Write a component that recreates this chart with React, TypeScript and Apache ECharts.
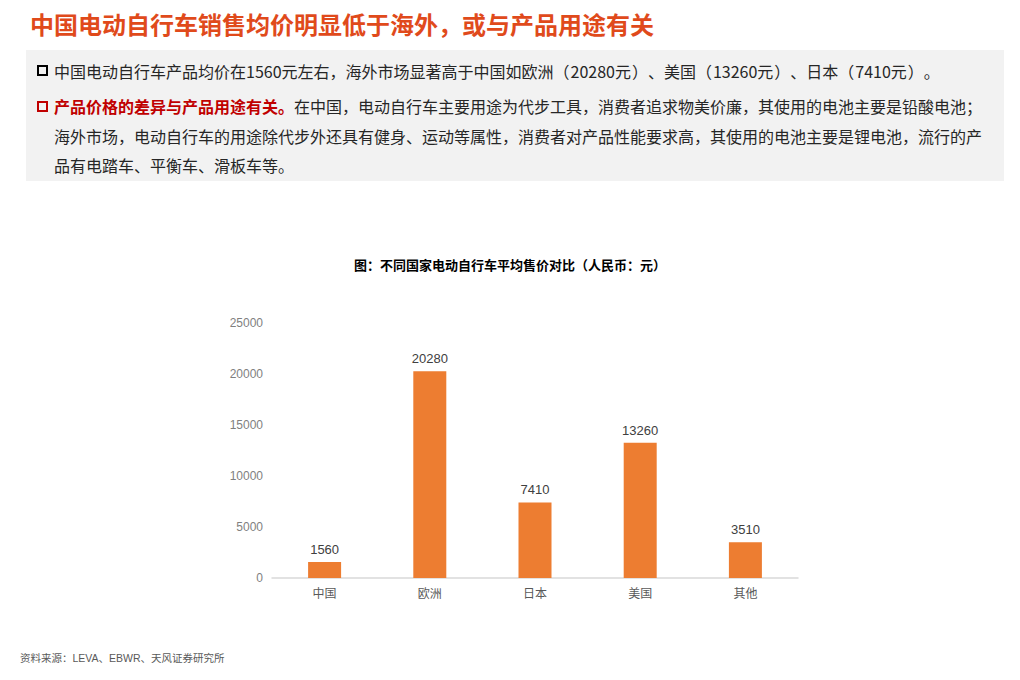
import React, { useEffect, useRef } from "react";
import * as echarts from "echarts";

const categories = ["中国", "欧洲", "日本", "美国", "其他"];
const prices = [1560, 20280, 7410, 13260, 3510];
const yTicks = [0, 5000, 10000, 15000, 20000, 25000];

const pageTitle = "中国电动自行车销售均价明显低于海外，或与产品用途有关";
const bullet1 = "中国电动自行车产品均价在1560元左右，海外市场显著高于中国如欧洲（20280元）、美国（13260元）、日本（7410元）。";
const bullet2Red = "产品价格的差异与产品用途有关。";
const bullet2Line1 = "在中国，电动自行车主要用途为代步工具，消费者追求物美价廉，其使用的电池主要是铅酸电池；";
const bullet2Line2 = "海外市场，电动自行车的用途除代步外还具有健身、运动等属性，消费者对产品性能要求高，其使用的电池主要是锂电池，流行的产";
const bullet2Line3 = "品有电踏车、平衡车、滑板车等。";
const chartTitle = "图：不同国家电动自行车平均售价对比（人民币：元）";
const source = "资料来源：LEVA、EBWR、天风证券研究所";

const FONT = "'Liberation Sans', 'Noto Sans CJK SC', sans-serif";
const CJK = "'Noto Sans CJK SC', sans-serif";

function toRich(s: string): string {
  const parts = s.split(/([（）])/);
  return parts
    .filter((p) => p.length > 0)
    .map((p) => (p === "（" ? "{po|（}" : p === "）" ? "{pc|）}" : "{n|" + p + "}"))
    .join("");
}

export default function App() {
  const ref = useRef<HTMLDivElement>(null);
  useEffect(() => {
    const chart = echarts.init(ref.current!, null, { renderer: "svg" });
    const base = { fontSize: 16, fill: "#262626", color: "#262626", fontFamily: CJK };
    chart.setOption({
      animation: false,
      backgroundColor: "#ffffff",
      textStyle: { fontFamily: FONT },
      grid: { left: 272, right: 222, top: 323, bottom: 102, containLabel: false },
      xAxis: {
        type: "category",
        data: categories,
        axisLine: { lineStyle: { color: "#D9D9D9", width: 1.5 } },
        axisTick: { show: false },
        axisLabel: { color: "#595959", fontSize: 12, margin: 10, fontFamily: FONT },
      },
      yAxis: {
        type: "value",
        min: yTicks[0],
        max: yTicks[yTicks.length - 1],
        interval: 5000,
        axisLine: { show: false },
        axisTick: { show: false },
        splitLine: { show: false },
        axisLabel: {
          color: "#7F7F7F",
          fontSize: 12,
          margin: 9,
          fontFamily: FONT,
          formatter: (v: number) => String(v),
        },
      },
      series: [
        {
          type: "bar",
          data: prices,
          barWidth: 33,
          itemStyle: { color: "#ED7D31" },
          label: {
            show: true,
            position: "top",
            color: "#404040",
            fontSize: 13,
            distance: 6,
            fontFamily: FONT,
          },
        },
      ],
      graphic: [
        {
          type: "text",
          left: 30,
          top: 13,
          style: {
            text: pageTitle,
            fontSize: 24,
            fontWeight: "bold",
            fill: "#E04A1B",
            fontFamily: FONT,
          },
        },
        {
          type: "rect",
          shape: { x: 26, y: 50, width: 978, height: 131 },
          style: { fill: "#F2F2F2" },
          z: -1,
        },
        {
          type: "rect",
          shape: { x: 38, y: 66, width: 9, height: 9 },
          style: { fill: "none", stroke: "#000000", lineWidth: 2 },
        },
        {
          type: "text",
          x: 54,
          y: 71,
          style: {
            text: toRich(bullet1),
            verticalAlign: "middle",
            rich: {
              n: base,
              po: { ...base, padding: [0, 1, 0, 0] },
              pc: { ...base, padding: [0, 0, 0, 1] },
            },
          },
        },
        {
          type: "rect",
          shape: { x: 38, y: 102, width: 9, height: 9 },
          style: { fill: "none", stroke: "#C00000", lineWidth: 2 },
        },
        {
          type: "text",
          x: 54,
          y: 107,
          style: {
            text: "{r|" + bullet2Red + "}{n|" + bullet2Line1 + "}",
            verticalAlign: "middle",
            rich: {
              r: { fontSize: 16, fontWeight: "bold", fill: "#C00000", color: "#C00000", fontFamily: FONT },
              n: { fontSize: 16, fill: "#262626", color: "#262626", fontFamily: FONT },
            },
          },
        },
        {
          type: "text",
          x: 54,
          y: 137,
          style: {
            text: bullet2Line2,
            fontSize: 16,
            fill: "#262626",
            fontFamily: FONT,
            verticalAlign: "middle",
          },
        },
        {
          type: "text",
          x: 54,
          y: 166,
          style: {
            text: bullet2Line3,
            fontSize: 16,
            fill: "#262626",
            fontFamily: FONT,
            verticalAlign: "middle",
          },
        },
        {
          type: "text",
          x: 510,
          y: 265,
          style: {
            text: chartTitle,
            fontSize: 13,
            fontWeight: "bold",
            fill: "#000000",
            align: "center",
            verticalAlign: "middle",
            fontFamily: FONT,
          },
        },
        {
          type: "text",
          x: 20,
          y: 658,
          style: {
            text: source,
            fontSize: 10.5,
            fill: "#595959",
            verticalAlign: "middle",
            fontFamily: FONT,
          },
        },
      ],
    });
    return () => chart.dispose();
  }, []);
  return <div ref={ref} style={{ width: 1020, height: 680, position: "absolute", left: 0, top: 0 }} />;
}
